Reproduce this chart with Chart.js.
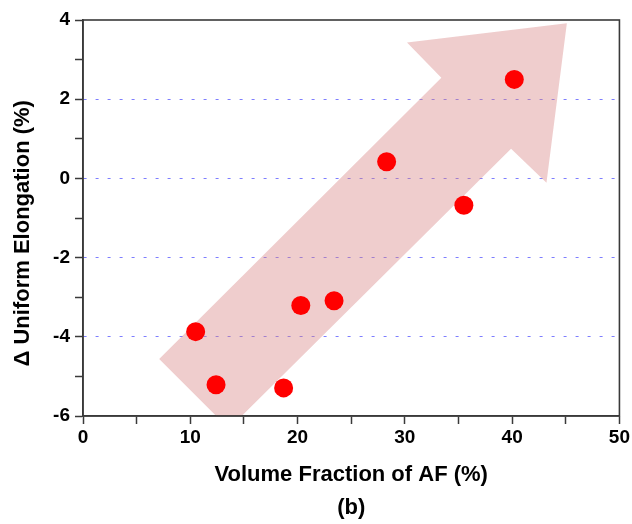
<!DOCTYPE html>
<html>
<head>
<meta charset="utf-8">
<script src="https://cdn.jsdelivr.net/npm/chart.js@4/dist/chart.umd.min.js"></script>
<style>
  html, body { margin: 0; padding: 0; background: #fff; }
  #wrap { width: 632px; height: 524px; }
</style>
</head>
<body>
<div id="wrap"><canvas id="chart" width="632" height="524"></canvas></div>
<script>
// ===============================
// DATA
// ===============================
const volumeFraction = [10.5, 12.4, 18.7, 20.3, 23.4, 28.3, 35.5, 40.2];
const elongationDelta = [-3.87, -5.21, -5.29, -3.21, -3.09, 0.42, -0.68, 2.50];

// arrow outline, in data units
const arrowX = [7.1, 13.6, 39.9, 43.2, 45.1, 30.2, 33.4, 7.1];
const arrowY = [-4.56, -6.32, 0.75, -0.11, 3.92, 3.43, 2.54, -4.56];

const xTicks = [0, 10, 20, 30, 40, 50];
const yTicks = [-6, -4, -2, 0, 2, 4];
const gridValues = [-4, -2, 0, 2];

const FONT = "'Liberation Sans', Arial, sans-serif";

// ===============================
// FRAME PLUGIN (top + right border)
// ===============================
const framePlugin = {
  id: "frame",
  afterDatasetsDraw(chart) {
    const { ctx, chartArea: a } = chart;
    ctx.save();
    ctx.strokeStyle = "#3a3a3a";
    ctx.lineWidth = 1.6;
    ctx.strokeRect(a.left, a.top, a.right - a.left, a.bottom - a.top);
    ctx.restore();
  }
};

// ===============================
// CHART
// ===============================
new Chart(document.getElementById("chart"), {
  type: "scatter",
  data: {
    datasets: [
      {
        data: volumeFraction.map((x, i) => ({ x, y: elongationDelta[i] })),
        backgroundColor: "#ff0000",
        borderWidth: 0,
        pointRadius: 9.5,
        order: 1
      },
      {
        type: "line",
        data: arrowX.map((x, i) => ({ x, y: arrowY[i] })),
        showLine: true,
        borderWidth: 0,
        borderColor: "rgba(0,0,0,0)",
        backgroundColor: "rgba(214,130,130,0.4)",
        fill: "shape",
        pointRadius: 0,
        tension: 0,
        order: 2
      }
    ]
  },
  options: {
    responsive: false,
    animation: false,
    events: [],
    layout: { padding: { left: 0, right: 11, top: 20, bottom: 0 } },
    plugins: {
      legend: { display: false },
      tooltip: { enabled: false }
    },
    scales: {
      x: {
        type: "linear",
        min: 0,
        max: 50,
        afterFit: s => { s.height = 108; },
        afterBuildTicks: s => {
          s.ticks = [];
          for (let v = 0; v <= 50; v += 5) s.ticks.push({ value: v });
        },
        ticks: {
          color: "#000",
          padding: 2,
          maxRotation: 0,
          font: { family: FONT, size: 19, weight: "bold" },
          callback: v => (xTicks.includes(v) ? String(v) : "")
        },
        grid: {
          drawOnChartArea: false,
          tickLength: 8,
          tickColor: "#3a3a3a",
          tickWidth: 1.5
        },
        border: { color: "#3a3a3a", width: 1.6 },
        title: {
          display: true,
          text: ["Volume Fraction of AF (%)", "(b)"],
          color: "#000",
          font: { family: FONT, size: 22, weight: "bold", lineHeight: 1.49 },
          padding: { top: 0, bottom: 0 }
        }
      },
      y: {
        type: "linear",
        min: -6,
        max: 4,
        afterFit: s => { s.width = 83; },
        afterBuildTicks: s => {
          s.ticks = [];
          for (let v = -6; v <= 4; v += 1) s.ticks.push({ value: v });
        },
        ticks: {
          color: "#000",
          padding: 5,
          font: { family: FONT, size: 19, weight: "bold" },
          callback: v => (yTicks.includes(v) ? String(v) : "")
        },
        grid: {
          color: ctx => (ctx.tick && gridValues.includes(ctx.tick.value) ? "#7d7dff" : "rgba(0,0,0,0)"),
          lineWidth: 1,
          tickLength: 8,
          tickColor: "#3a3a3a",
          tickWidth: 1.5
        },
        border: { color: "#3a3a3a", width: 1.6, dash: [3, 9] },
        title: {
          display: true,
          text: "Δ Uniform Elongation (%)     ",
          color: "#000",
          font: { family: FONT, size: 22, weight: "bold" },
          padding: { top: 10, bottom: 0 }
        }
      }
    }
  },
  plugins: [framePlugin]
});
</script>
</body>
</html>
